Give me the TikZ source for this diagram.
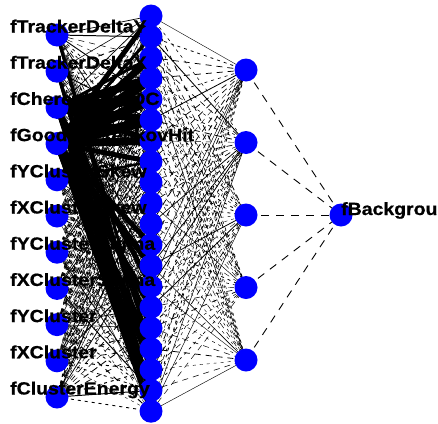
\documentclass[tikz,border=0pt]{standalone}
\usepackage{fontspec}
\setmainfont{Liberation Sans}
\newfontfamily\lblfont{Liberation Sans Bold}[FakeBold=0.8]
\pgfdeclarelayer{bg}
\pgfsetlayers{bg,main}
\tikzset{
  neuron/.style={circle, fill=blue, inner sep=0pt, minimum size=23pt},
  lbl/.style={anchor=base west, inner sep=0pt, font=\fontsize{17.7}{20}\lblfont},
  edge/.style={black, line width=0.7pt},
  dashA/.style={dash pattern=on 6pt off 5pt},
  dashB/.style={dash pattern=on 3pt off 4pt},
  heavy/.style={black, line cap=butt},
  outedge/.style={black, line width=0.9pt, dash pattern=on 8pt off 7pt},
}
\begin{document}
\begin{tikzpicture}[x=1pt,y=-1pt]
\useasboundingbox (0,0) rectangle (438,423);
\clip (0,0) rectangle (438,423);
% neurons
\foreach \k in {1,...,11} \node[neuron] (i\k) at (57, {35+36.2*(\k-1)}) {};
\foreach \k in {1,...,20} \node[neuron] (h\k) at (151, {16+20.8*(\k-1)}) {};
\foreach \k in {1,...,5} \node[neuron] (g\k) at (246, {70+72.5*(\k-1)}) {};
\node[neuron] (o) at (341,215) {};
% connectors
\begin{pgfonlayer}{bg}
\pgfmathsetseed{4217}
\foreach \a in {1,...,11}{
  \foreach \b in {1,...,20}{
    \pgfmathsetmacro\rr{rnd}
    \pgfmathsetmacro\ww{0.3+0.7*rnd}
    \ifdim\rr pt<0.4pt
      \draw[edge,dashA,line width=\ww pt] (i\a.center) -- (h\b.center);
    \else\ifdim\rr pt<0.8pt
      \draw[edge,dashB,line width=\ww pt] (i\a.center) -- (h\b.center);
    \else
      \draw[edge,line width=\ww pt] (i\a.center) -- (h\b.center);
    \fi\fi
  }
}
\foreach \a/\b/\w in {4/1/5, 4/2/3, 4/3/7, 4/4/10, 4/5/10, 4/6/10, 4/7/8, 4/8/5,
  3/3/3, 3/4/8, 3/5/10, 3/6/8, 3/7/6,
  4/12/5, 4/13/6, 4/15/6, 4/17/7, 4/19/6, 4/20/5,
  3/14/5, 3/16/5, 3/18/5, 3/19/4, 3/20/4,
  1/17/3, 1/18/2.5, 2/19/3, 2/17/2, 5/8/2.5, 2/20/2}
  \draw[heavy,line width=\w pt] (i\a.center) -- (h\b.center);
\foreach \a in {1,...,20}{
  \foreach \b in {1,...,5}{
    \pgfmathsetmacro\rr{rnd}
    \pgfmathsetmacro\ww{0.35+0.5*rnd}
    \ifdim\rr pt<0.45pt
      \draw[edge,dashA,line width=\ww pt] (h\a.center) -- (g\b.center);
    \else\ifdim\rr pt<0.78pt
      \draw[edge,dashB,line width=\ww pt] (h\a.center) -- (g\b.center);
    \else
      \draw[edge,line width=\ww pt] (h\a.center) -- (g\b.center);
    \fi\fi
  }
}
\foreach \b in {1,...,5} \draw[outedge] (g\b.center) -- (o.center);
\end{pgfonlayer}
% labels
\node[lbl] (l1) at (10, 32.5) {\scalebox{1.1}[1]{fTrackerDeltaY}};
\node[lbl] (l2) at (10, 68.7) {\scalebox{1.1}[1]{fTrackerDeltaX}};
\node[lbl] (l3) at (10, 104.9) {\scalebox{1.1}[1]{fCherenkovADC}};
\node[lbl] (l4) at (10, 141.1) {\scalebox{1.1}[1]{fGoodCherenkovHit}};
\node[lbl] (l5) at (10, 177.3) {\scalebox{1.1}[1]{fYClusterSkew}};
\node[lbl] (l6) at (10, 213.5) {\scalebox{1.1}[1]{fXClusterSkew}};
\node[lbl] (l7) at (10, 249.7) {\scalebox{1.1}[1]{fYClusterSigma}};
\node[lbl] (l8) at (10, 285.9) {\scalebox{1.1}[1]{fXClusterSigma}};
\node[lbl] (l9) at (10, 322.1) {\scalebox{1.1}[1]{fYCluster}};
\node[lbl] (l10) at (10, 358.3) {\scalebox{1.1}[1]{fXCluster}};
\node[lbl] (l11) at (10, 394.5) {\scalebox{1.1}[1]{fClusterEnergy}};
\node[lbl] (lo) at (341, 215) {\scalebox{1.1}[1]{fBackground}};
\end{tikzpicture}
\end{document}
